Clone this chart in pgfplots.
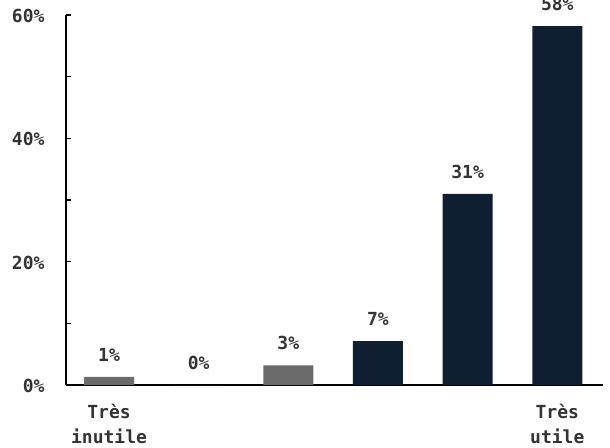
\documentclass[border=0pt]{standalone}
\usepackage{pgfplots}
\pgfplotsset{compat=1.18}
\usepackage{fontspec}
\setmainfont{DejaVu Sans Mono}
\setmonofont{DejaVu Sans Mono}
\definecolor{txt}{HTML}{333333}
\definecolor{grayb}{HTML}{6B6B6B}
\definecolor{navy}{HTML}{0F1F31}
\begin{document}
\begin{tikzpicture}[x=1pt,y=1pt]
\begin{axis}[
  at={(0,0)}, anchor=south west,
  scale only axis, width=537pt, height=370pt,
  xmin=-0.48, xmax=5.51, ymin=0, ymax=60,
  axis x line*=bottom, axis y line*=left,
  axis line style={line width=1.5pt, black},
  ybar, bar width=50pt,
  ytick={0,10,20,30,40,50,60},
  yticklabels={0\%,,20\%,,40\%,,60\%},
  major tick length=5pt,
  ytick style={line width=1.5pt, black},
  xtick={0,5},
  xticklabels={{Très\\inutile},{Très\\utile}},
  xtick style={draw=none},
  tick label style={font=\fontsize{18}{25}\selectfont\bfseries, text=txt},
  x tick label style={align=center, yshift=-11pt},
  y tick label style={xshift=-18pt, yshift=-1pt},
  /pgf/number format/assume math mode=true,
  nodes near coords,
  point meta=explicit symbolic,
  nodes near coords style={font=\fontsize{18}{20}\selectfont\bfseries, text=txt, yshift=12pt},
  clip=false,
]
\addplot[fill=grayb, draw=none, bar shift=0pt] coordinates {(0,1.3)[1\%] (1,0)[0\%] (2,3.2)[3\%]};
\addplot[fill=navy, draw=none, bar shift=0pt] coordinates {(3,7.1)[7\%] (4,31)[31\%] (5,58.2)[58\%]};
\end{axis}
\pgfresetboundingbox
\path[use as bounding box] (-66,-62) rectangle (544,385);
\end{tikzpicture}
\end{document}
